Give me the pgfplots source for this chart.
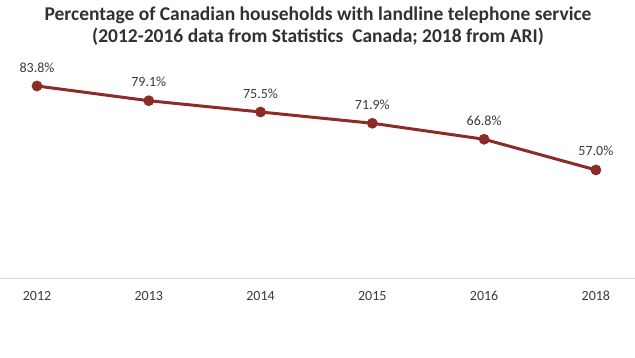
\documentclass[border=0pt]{standalone}
\usepackage{pgfplots}
\pgfplotsset{compat=1.18}
\usepackage{fontspec}
\setmainfont{Carlito}
\definecolor{linered}{HTML}{8C2B28}
\definecolor{txt}{HTML}{3A3A3A}
\begin{document}
\begin{tikzpicture}[x=1pt,y=1pt]
\node[font=\fontsize{19.5}{22.5}\selectfont\bfseries, text=txt!85!black, align=center] at (318,331) {Percentage of Canadian households with landline telephone service\\(2012-2016 data from Statistics\ \ Canada; 2018 from ARI)};
\begin{axis}[
  at={(0pt,79pt)}, anchor=south west,
  scale only axis, width=635pt, height=218pt,
  xmin=-0.331, xmax=5.35, ymin=22.5, ymax=92.1,
  axis x line=bottom, axis y line=none,
  x axis line style={draw=gray!30, line width=0.8pt, -},
  clip=false,
  xtick={0,1,2,3,4,5},
  xticklabels={2012,2013,2014,2015,2016,2018},
  major tick length=0pt,
  xticklabel style={text=txt, font=\fontsize{14}{16}\selectfont, yshift=-9pt, text depth=0pt, text height=9.5pt},
  /pgf/number format/assume math mode=true,
]
\addplot[linered, line width=3pt, mark=*, mark size=3.8pt,
  nodes near coords={\pgfmathprintnumber[fixed,fixed zerofill,precision=1]{\pgfplotspointmeta}\%},
  nodes near coords style={text=txt, font=\fontsize{14}{16}\selectfont, anchor=south, yshift=9pt}]
 coordinates {(0,83.8) (1,79.1) (2,75.5) (3,71.9) (4,66.8) (5,57.0)};
\end{axis}
\pgfresetboundingbox
\path[use as bounding box] (0,0) rectangle (635,357);
\end{tikzpicture}
\end{document}
